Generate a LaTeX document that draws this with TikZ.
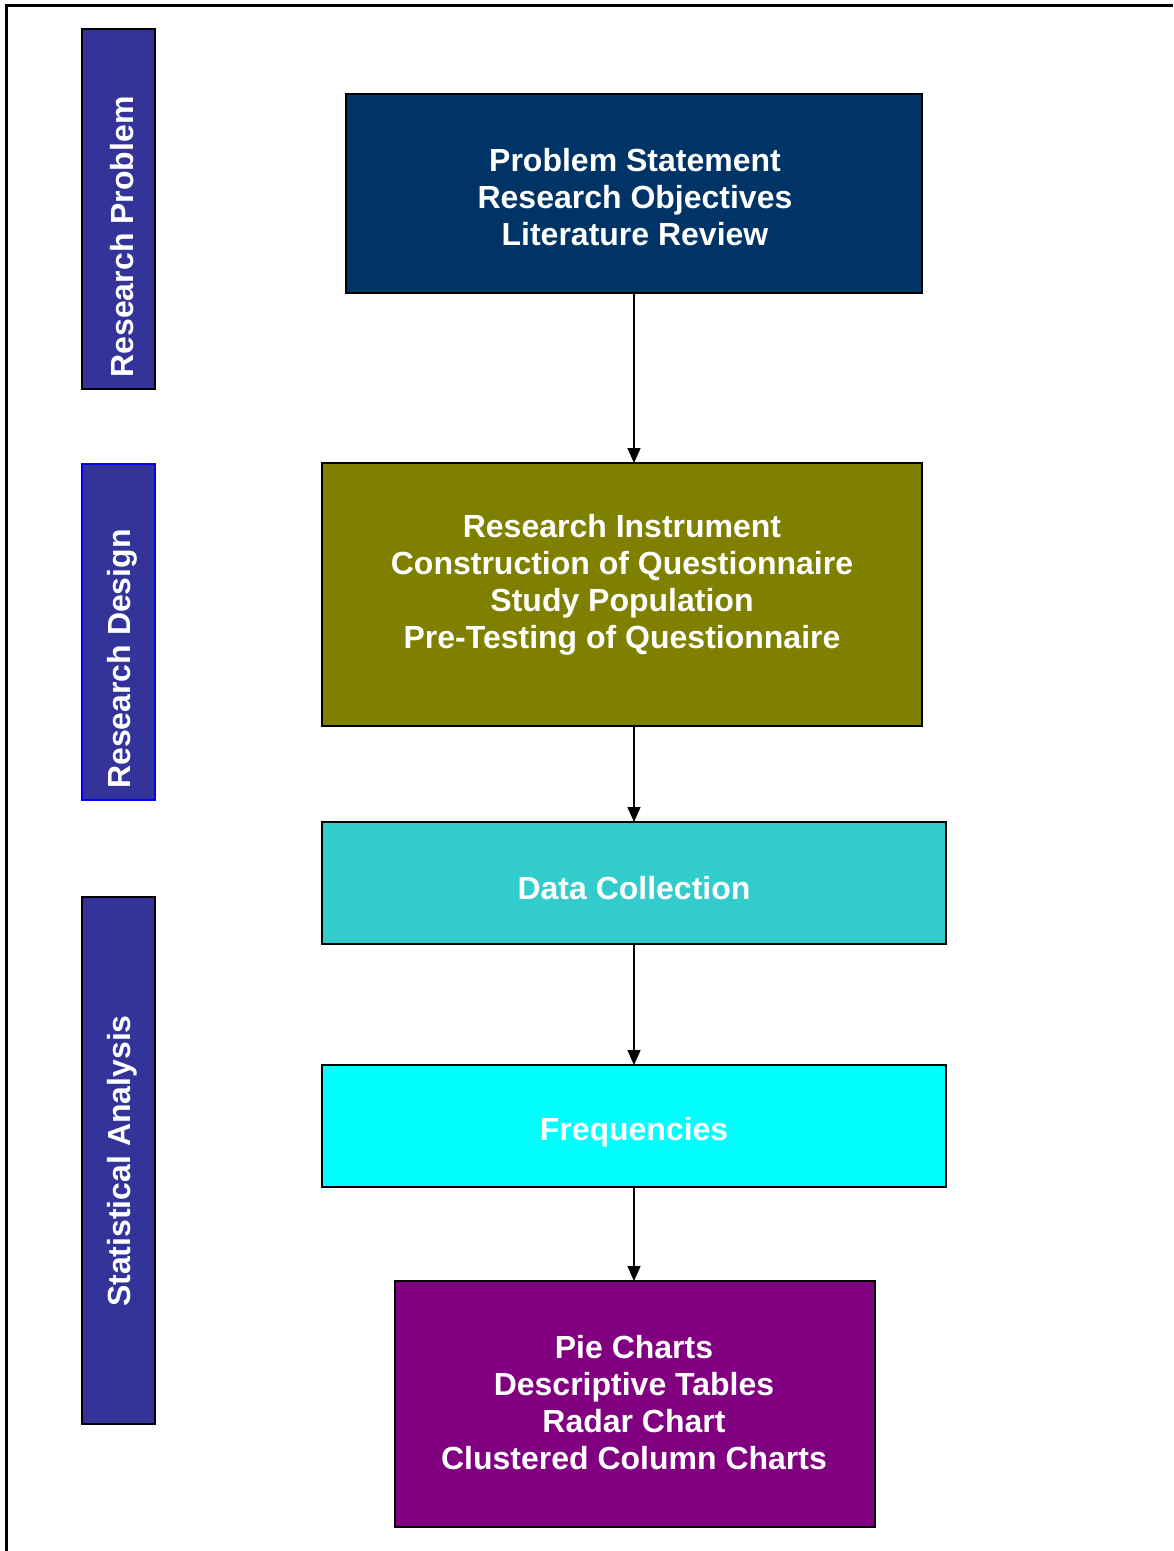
\documentclass[tikz,border=0pt]{standalone}
\usepackage{fontspec}
\setmainfont{Liberation Sans}
\usetikzlibrary{arrows.meta}

\definecolor{sidebar}{HTML}{333399}
\definecolor{navy}{HTML}{003366}
\definecolor{olivebox}{HTML}{808000}
\definecolor{tealbox}{HTML}{33CCCC}
\definecolor{cyanbox}{HTML}{00FFFF}
\definecolor{purplebox}{HTML}{800080}

\begin{document}
\begin{tikzpicture}[x=0.5pt,y=-0.5pt,
  panel/.style={draw=black, line width=1pt, inner sep=0pt, outer sep=0pt},
  sidepanel/.style={panel, fill=sidebar},
  lbl/.style={text=white, font=\fontsize{16}{18.5}\selectfont\bfseries, align=center, inner sep=0pt},
  sidelbl/.style={lbl, rotate=90},
  arr/.style={draw=black, line width=0.75pt, -{Triangle[length=7.5pt,width=6.5pt]}}
]
\useasboundingbox (0,0) rectangle (1173,1551);

% outer frame (left and top edges)
\draw[line width=1.5pt] (6,1551) -- (6,6) -- (1173,6);

% side bars
\node[sidepanel, minimum width=36.5pt, minimum height=180pt] (s1) at (118.5,209) {};
\node[sidepanel, draw=blue, minimum width=36.5pt, minimum height=168pt] (s2) at (118.5,632) {};
\node[sidepanel, minimum width=36.5pt, minimum height=263.5pt] (s3) at (118.5,1160.5) {};
\node[sidelbl] (t1) at (122,237) {Research Problem};
\node[sidelbl] (t2) at (122,659) {Research Design};
\node[sidelbl] (t3) at (122,1161) {Statistical Analysis};

% flow boxes
\node[panel, fill=navy, minimum width=288pt, minimum height=99.5pt] (b1) at (634,193.5) {};
\node[panel, fill=olivebox, minimum width=300pt, minimum height=131.5pt] (b2) at (622,594.5) {};
\node[panel, fill=tealbox, minimum width=312pt, minimum height=61pt] (b3) at (634,883) {};
\node[panel, fill=cyanbox, minimum width=312pt, minimum height=61pt] (b4) at (634,1126) {};
\node[panel, fill=purplebox, minimum width=240pt, minimum height=123pt] (b5) at (635,1404) {};

% box texts
\node[lbl] (l1) at (635,197) {Problem Statement\\Research Objectives\\Literature Review};
\node[lbl] (l2) at (622,584.5) {Research Instrument\\Construction of Questionnaire\\Study Population\\Pre-Testing of Questionnaire};
\node[lbl] (l3) at (634,888) {Data Collection};
\node[lbl] (l4) at (634,1132) {Frequencies};
\node[lbl] (l5) at (634,1403) {Pie Charts\\Descriptive Tables\\Radar Chart\\Clustered Column Charts};

% connectors
\draw[arr] (b1.south) -- (b1.south |- b2.north);
\draw[arr] (b1.south |- b2.south) -- (b3.north);
\draw[arr] (b3.south) -- (b4.north);
\draw[arr] (b4.south) -- (b5.north -| b4.south);
\end{tikzpicture}
\end{document}
